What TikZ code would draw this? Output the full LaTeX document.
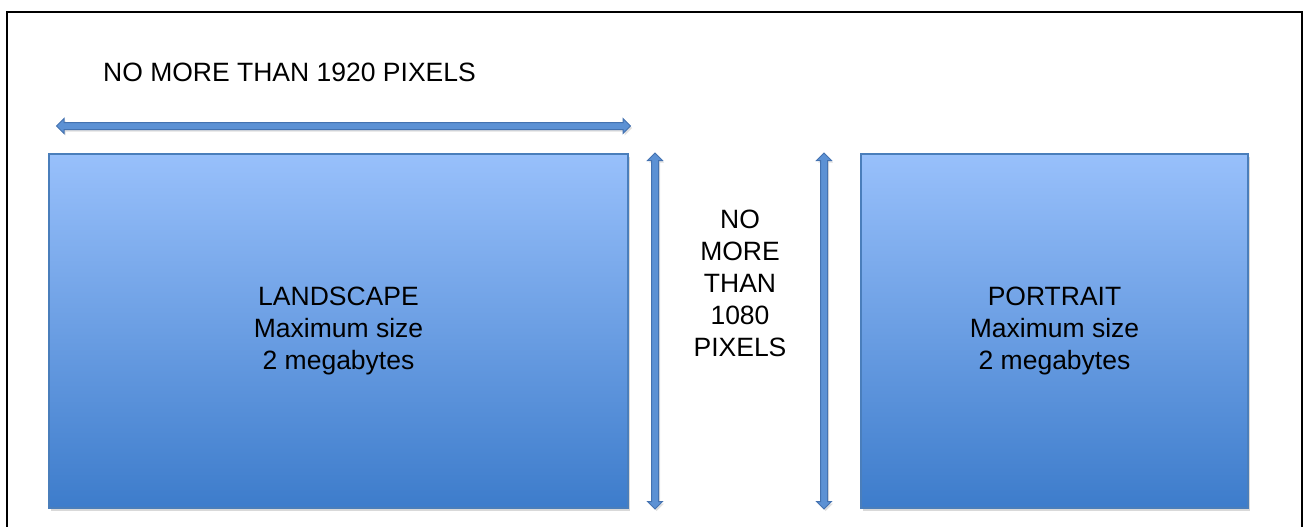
\documentclass[tikz,border=0pt]{standalone}
\usepackage{fontspec}
\setmainfont{Liberation Sans}
\usetikzlibrary{shapes.arrows,shadows}
\definecolor{boxtop}{RGB}{152,192,251}
\definecolor{boxbot}{RGB}{61,124,203}
\definecolor{boxline}{RGB}{74,126,187}
\definecolor{arrfill}{RGB}{92,145,212}
\definecolor{arrline}{RGB}{68,114,176}
\tikzset{
  sizebox/.style={draw=boxline, line width=1.3pt, top color=boxtop, bottom color=boxbot, inner sep=0pt,
    drop shadow={shadow xshift=2pt, shadow yshift=-3pt, opacity=0.3}},
  blockarrow/.style={double arrow, draw=arrline, fill=arrfill, line width=1pt, inner sep=0pt,
    minimum width=7pt, double arrow head extend=4pt, text width=0pt, text height=3pt, text depth=3pt,
    drop shadow={shadow xshift=1.5pt, shadow yshift=-2pt, opacity=0.25}},
  lbl/.style={font=\fontsize{26.5}{32}\selectfont, align=center, text=black, inner sep=0pt}
}
\begin{document}
\begin{tikzpicture}[x=1pt,y=-1pt]
\useasboundingbox (0,0) rectangle (1307,527);
\coordinate (fbl) at (7,527);
\coordinate (ftl) at (7,12);
\coordinate (ftr) at (1302,12);
\coordinate (fbr) at (1302,527);
\draw[line width=1.6pt] (fbl) -- (ftl) -- (ftr) -- (fbr);
\node[sizebox, minimum width=579pt, minimum height=354pt] (land) at (338.5,331) {};
\node[sizebox, minimum width=387pt, minimum height=354pt] (port) at (1054.5,331) {};
\node[lbl] (landtxt) at (land.center) {LANDSCAPE\\Maximum size\\2 megabytes};
\node[lbl] (porttxt) at (port.center) {PORTRAIT\\Maximum size\\2 megabytes};
\node[blockarrow, minimum height=574pt] (harr) at (343.5,126) {};
\node[blockarrow, rotate=90, minimum height=356pt] (varr1) at (655,331) {};
\node[blockarrow, rotate=90, minimum height=356pt] (varr2) at (824,331) {};
\node[lbl, anchor=west] (wtxt) at (103,72) {NO MORE THAN 1920 PIXELS};
\node[lbl] (htxt) at (740,283) {NO\\MORE\\THAN\\1080\\PIXELS};
\end{tikzpicture}
\end{document}
